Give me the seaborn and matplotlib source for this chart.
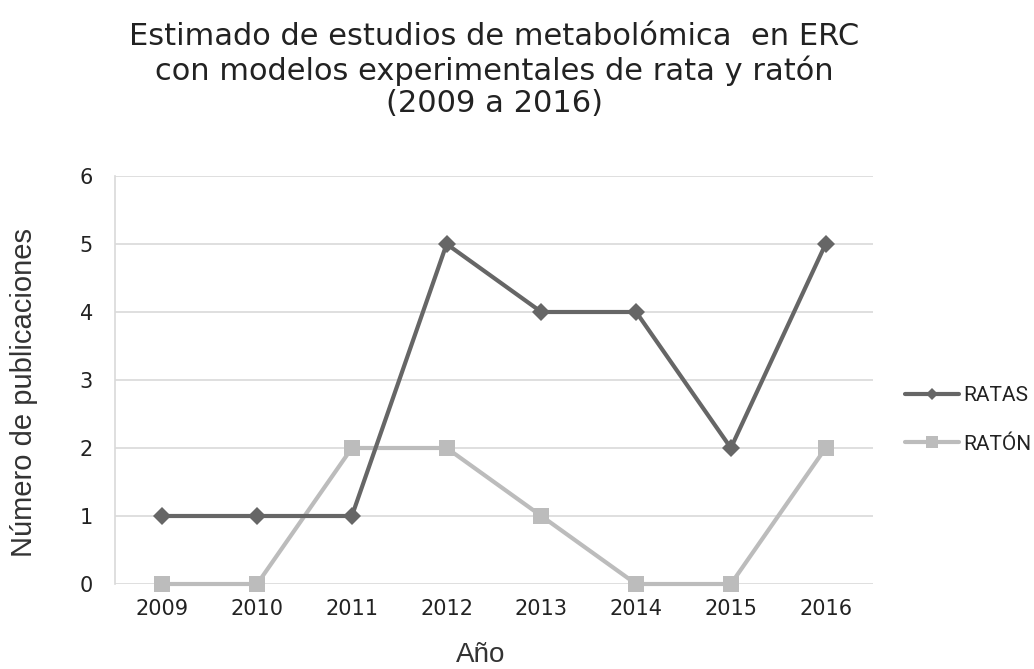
import matplotlib
matplotlib.use("Agg")
import matplotlib.pyplot as plt
import seaborn as sns
import pandas as pd
from matplotlib.lines import Line2D

years = ["2009", "2010", "2011", "2012", "2013", "2014", "2015", "2016"]
ratas = [1, 1, 1, 5, 4, 4, 2, 5]
raton = [0, 0, 2, 2, 1, 0, 0, 2]
series_names = ["RATAS", "RATÓN"]
title = "Estimado de estudios de metabolómica  en ERC\ncon modelos experimentales de rata y ratón\n(2009 a 2016)"

sns.set_theme(style="white")
plt.rcParams['font.family'] = ['DejaVu Sans']

df = pd.DataFrame({
    "pos": list(range(len(years))) * 2,
    "val": ratas + raton,
    "serie": [series_names[0]] * len(years) + [series_names[1]] * len(years),
})

dark = "#666666"
light = "#bcbcbc"

fig = plt.figure(figsize=(10.34, 6.69), dpi=100)
ax = fig.add_axes([115 / 1034, 1 - 584 / 669, 758 / 1034, 408 / 669])

sns.lineplot(data=df, x="pos", y="val", hue="serie", style="serie",
             palette={"RATAS": dark, "RATÓN": light},
             markers={"RATAS": "D", "RATÓN": "s"}, dashes=False,
             markersize=10, linewidth=3, markeredgewidth=0, ax=ax, legend=False)
lines = ax.get_lines()
lines[0].set_markersize(9)
lines[1].set_markersize(11.5)
for ln in lines:
    ln.set_clip_on(False)
lines[0].set_zorder(4)
lines[1].set_zorder(3)

ax.set_xlim(-0.5, len(years) - 0.5)
ax.set_ylim(0, 6)
ax.set_xticks(range(len(years)))
ax.set_xticklabels(years)
ax.set_yticks(range(0, 7))
ax.tick_params(axis="both", length=0, labelsize=15, colors="#222222")
ax.tick_params(axis="x", pad=11)
ax.tick_params(axis="y", pad=16)
ax.grid(axis="y", color="#d9d9d9", linewidth=1.2)
ax.set_axisbelow(True)
for s in ["top", "right", "bottom"]:
    ax.spines[s].set_visible(False)
ax.spines["left"].set_color("#d9d9d9")
ax.spines["left"].set_linewidth(1.2)

lab_font = ['Liberation Sans', 'DejaVu Sans']
ax.set_xlabel("Año", fontsize=20, color="#333333", family=lab_font)
ax.set_ylabel("Número de publicaciones", fontsize=21, color="#333333", family=lab_font)
ax.xaxis.set_label_coords(0.483, -0.142)
ax.yaxis.set_label_coords(-0.102, 0.47)
ax.set_title(title, fontsize=22, color="#222222", pad=46, linespacing=1.15)

handles = [Line2D([], [], color=dark, marker="D", markersize=6.5, linewidth=3, markeredgewidth=0),
           Line2D([], [], color=light, marker="s", markersize=9, linewidth=3, markeredgewidth=0)]
leg = fig.legend(handles, series_names, loc="center left",
                 bbox_to_anchor=(905 / 1034, 1 - 420 / 669),
                 frameon=False, prop={'family': ['Roboto', 'DejaVu Sans'], 'size': 15},
                 handlelength=2.6, handletextpad=0.2, labelspacing=1.4,
                 borderpad=0, borderaxespad=0)
for t in leg.get_texts():
    t.set_color("#222222")

fig.savefig("out.png", dpi=100)
